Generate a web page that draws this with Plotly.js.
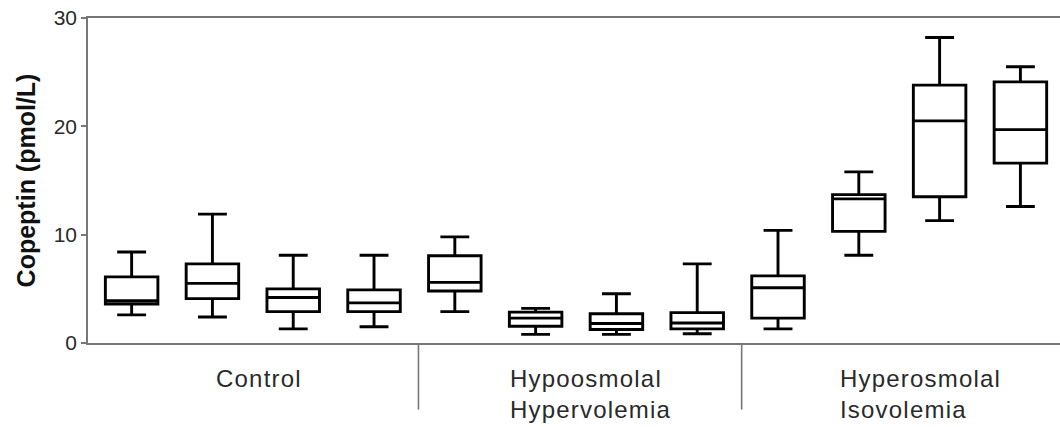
<!DOCTYPE html>
<html>
<head>
<meta charset="utf-8">
<script src="https://cdn.plot.ly/plotly-3.0.1.min.js"></script>
<style>
html,body{margin:0;padding:0;background:#fff;}
#chart{width:1060px;height:427px;}
.annotation-text{letter-spacing:1.2px;}
</style>
</head>
<body>
<div id="chart"></div>
<script>
// Categories (4 time points per group, 3 groups)
const categories = ['Control 1','Control 2','Control 3','Control 4',
  'Hypo 1','Hypo 2','Hypo 3','Hypo 4',
  'Hyper 1','Hyper 2','Hyper 3','Hyper 4'];
const groupLabels = ['Control', 'Hypoosmolal<br>Hypervolemia', 'Hyperosmolal<br>Isovolemia'];

// Box statistics (pmol/L)
const lowerWhisker = [2.6, 2.4, 1.3, 1.5, 2.9, 0.8, 0.8, 0.85, 1.3, 8.1, 11.3, 12.6];
const q1           = [3.6, 4.1, 2.9, 2.9, 4.8, 1.55, 1.25, 1.3, 2.3, 10.3, 13.5, 16.6];
const median       = [3.9, 5.5, 4.2, 3.7, 5.6, 2.3, 1.8, 1.85, 5.1, 13.3, 20.5, 19.7];
const q3           = [6.1, 7.3, 5.0, 4.9, 8.05, 2.85, 2.7, 2.8, 6.2, 13.7, 23.8, 24.1];
const upperWhisker = [8.4, 11.9, 8.1, 8.1, 9.8, 3.2, 4.55, 7.3, 10.4, 15.8, 28.2, 25.5];

const trace = {
  type: 'box',
  x: categories,
  q1: q1,
  median: median,
  q3: q3,
  lowerfence: lowerWhisker,
  upperfence: upperWhisker,
  boxpoints: false,
  width: 0.65,
  whiskerwidth: 0.55,
  line: {color: '#000', width: 2.9},
  fillcolor: 'rgba(255,255,255,0)',
  hoverinfo: 'skip',
  showlegend: false
};

const font = {family: '"Liberation Sans", Arial, sans-serif', color: '#2a2a2a'};

const layout = {
  width: 1060, height: 427,
  margin: {l: 88, r: 0, t: 18, b: 84},
  paper_bgcolor: '#fff', plot_bgcolor: '#fff',
  showlegend: false,
  xaxis: {
    type: 'category',
    categoryorder: 'array', categoryarray: categories,
    range: [-0.54, 11.49],
    showticklabels: false, ticks: '',
    showgrid: false, zeroline: false,
    showline: true, mirror: true, linecolor: '#777', linewidth: 1.8
  },
  yaxis: {
    range: [0, 30],
    tickvals: [0, 10, 20, 30],
    ticktext: ['0', '10', '20', '30'],
    ticks: 'outside', ticklen: 5, tickwidth: 1.8, tickcolor: '#777',
    showgrid: false, zeroline: false,
    showline: true, linecolor: '#777', linewidth: 1.8,
    tickfont: Object.assign({size: 21}, font),
    title: {text: '<b>Copeptin (pmol/L)</b>', font: Object.assign({size: 25}, font, {color: '#111'}), standoff: 11}
  },
  shapes: [3.55, 7.55].map(x => ({
    type: 'line', xref: 'x', yref: 'paper', x0: x, x1: x, y0: 0, y1: -0.205,
    line: {color: '#777', width: 1.6}
  })),
  annotations: [
    {text: groupLabels[0], x: 1.58, xanchor: 'center'},
    {text: groupLabels[1], x: 4.66, xanchor: 'left'},
    {text: groupLabels[2], x: 8.74, xanchor: 'left'}
  ].map(a => Object.assign({
    xref: 'x', yref: 'paper', y: -0.06, yanchor: 'top', align: 'left',
    showarrow: false, font: Object.assign({size: 24}, font)
  }, a))
};

Plotly.newPlot('chart', [trace], layout, {displayModeBar: false, staticPlot: true});
</script>
</body>
</html>
